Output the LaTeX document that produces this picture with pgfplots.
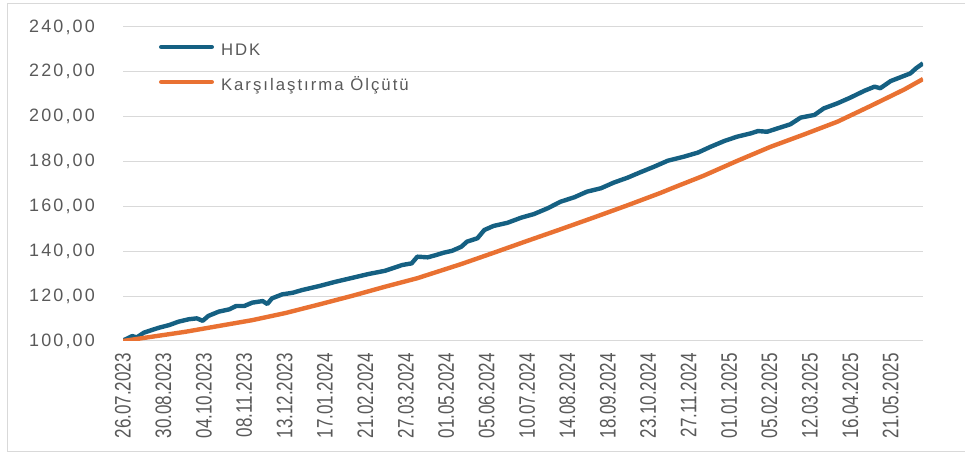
\documentclass[border=0pt]{standalone}
\usepackage{pgfplots}
\pgfplotsset{compat=1.18}
\usepackage{pgfplotstable}
\usepackage{fontspec}
\usepackage{graphicx}
\setmainfont{Liberation Sans}
\newfontfamily\spaced[LetterSpace=12]{Liberation Sans}
\definecolor{hdk}{HTML}{156082}
\definecolor{kar}{HTML}{E97132}
\definecolor{gridc}{HTML}{D9D9D9}
\definecolor{txt}{HTML}{595959}
\newcommand\nx[1]{\scalebox{0.76}[1]{#1}}

\pgfplotstableread{
day val
0 100.2
8 102.2
12 101.6
18 103.7
25 104.9
31 105.9
40 107.1
48 108.6
57 109.7
64 110.1
69 109.0
74 111.2
83 113.1
92 114.1
98 115.6
105 115.6
112 117.1
121 117.8
125 116.5
129 119.0
138 120.8
147 121.5
155 122.7
170 124.5
184 126.4
199 128.2
213 129.9
227 131.3
242 133.9
250 134.6
255 137.6
264 137.3
271 138.3
278 139.4
285 140.2
293 142.0
298 144.3
307 145.8
313 149.5
321 151.3
333 152.7
345 155.0
356 156.6
368 159.2
379 162.1
391 164.1
402 166.6
414 168.1
425 170.6
437 172.8
448 175.2
460 177.7
472 180.4
486 182.2
498 184.0
509 186.6
521 189.2
532 191.1
544 192.6
550 193.6
558 193.3
567 194.8
578 196.6
587 199.6
599 200.8
607 203.7
619 206.0
630 208.5
642 211.5
651 213.4
656 212.7
665 215.9
677 218.3
682 219.3
687 221.6
693 223.8
}\hdkdata

\pgfplotstableread{
day val
0 100.0
25 101.9
54 104.1
83 106.7
112 109.3
141 112.5
170 116.3
199 120.2
227 124.2
255 128.0
264 129.5
293 134.3
322 139.5
350 144.6
379 149.8
408 155.1
437 160.5
466 166.1
475 168.0
503 173.7
532 180.3
561 186.6
590 192.1
619 197.8
648 204.9
677 212.2
693 216.8
}\kardata

\begin{document}
\begin{tikzpicture}
\useasboundingbox (0bp,0bp) rectangle (965bp,452bp);
\draw[gridc, line width=1bp] (965bp,448bp) -- (7bp,448bp) -- (7bp,1bp) -- (965bp,1bp);
\begin{axis}[
  at={(123bp,111bp)}, anchor=south west,
  scale only axis, width=800bp, height=314bp,
  xmin=0, xmax=693, ymin=100, ymax=240,
  ytick={100,120,...,240},
  yticklabels={{100,00},{120,00},{140,00},{160,00},{180,00},{200,00},{220,00},{240,00}},
  xtick={0,35,...,665},
  xticklabels={\nx{26.07.2023},\nx{30.08.2023},\nx{04.10.2023},\nx{08.11.2023},\nx{13.12.2023},\nx{17.01.2024},\nx{21.02.2024},\nx{27.03.2024},\nx{01.05.2024},\nx{05.06.2024},\nx{10.07.2024},\nx{14.08.2024},\nx{18.09.2024},\nx{23.10.2024},\nx{27.11.2024},\nx{01.01.2025},\nx{05.02.2025},\nx{12.03.2025},\nx{16.04.2025},\nx{21.05.2025}},
  ymajorgrids,
  major grid style={gridc, line width=1bp},
  axis line style={draw=none},
  tick style={draw=none},
  major tick length=0pt,
  yticklabel style={font=\spaced\fontsize{18}{18}\selectfont, text=txt, anchor=east, inner sep=0pt},
  yticklabel shift=28bp,
  xticklabel style={font=\fontsize{22.5}{22.5}\selectfont, text=txt, rotate=90, anchor=east, inner sep=0pt},
  xticklabel shift=12bp,
  legend style={at={(0.045,0.949)}, anchor=north west, draw=none, fill=none,
    inner sep=0pt, outer sep=0pt, row sep=23bp, column sep=7bp,
    font=\spaced\fontsize{16.8}{16.8}\selectfont, text=txt,
    nodes={inner sep=0pt, text height=12bp, text depth=0pt}},
  legend cell align=left,
  legend image code/.code={\draw[#1, line cap=round] (2.2bp,2bp) -- (52.8bp,2bp);},
]
\addplot[hdk, line width=4.4bp, line join=round, no markers] table[x=day,y=val] {\hdkdata};
\addplot[kar, line width=4.4bp, line join=round, no markers] table[x=day,y=val] {\kardata};
\legend{HDK, Karşılaştırma Ölçütü}
\end{axis}
\end{tikzpicture}
\end{document}
